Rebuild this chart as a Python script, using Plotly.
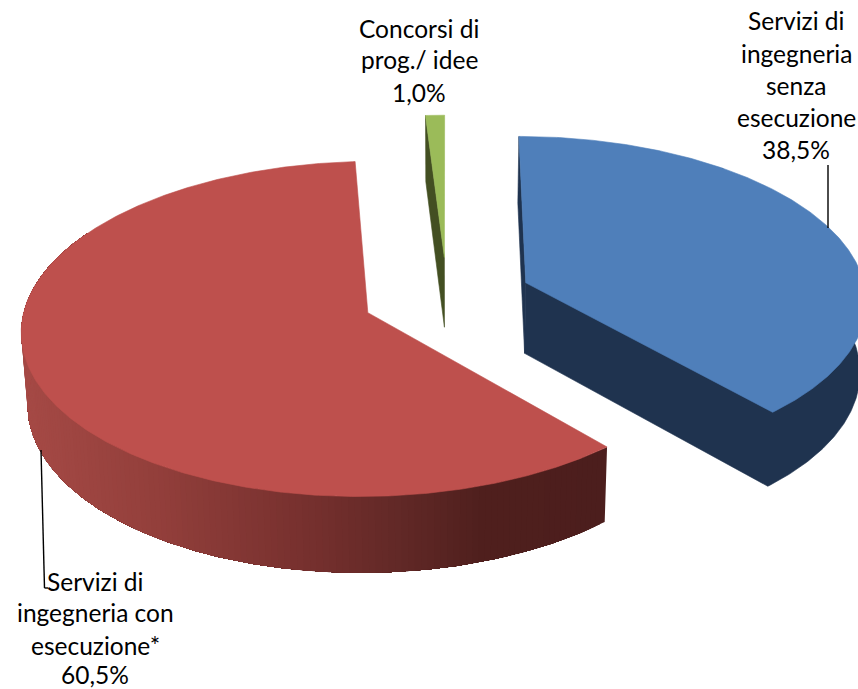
import numpy as np
import plotly.graph_objects as go

# Shares of the three award categories
categories = ["Servizi di ingegneria senza esecuzione", "Servizi di ingegneria con esecuzione*", "Concorsi di prog./ idee"]
values = [38.5, 60.5, 1.0]
value_labels = ["38,5%", "60,5%", "1,0%"]

TOP = {"blue": "#4F7FBA", "red": "#BE504D", "green": "#9BBB59"}
SIDE = {"blue": "#1F334F", "green": "#434F22"}
# Shading of the red wall, by horizontal pixel position
RED_X = [20, 150, 300, 400, 480, 610]
RED_R = [0xA6, 0x94, 0x78, 0x62, 0x50, 0x4C]
RED_G = [0x4A, 0x40, 0x31, 0x29, 0x20, 0x1E]
RED_B = [0x46, 0x3C, 0x2F, 0x27, 0x1E, 0x1D]

W, H = 858, 689
XC, YC = 447.0, 297.0      # pie centre on the page
A, B = 341.0, 163.0        # horizontal and vertical radius
K = 0.096                  # receding perspective
DEPTH, DEPTH_K = 72.0, 0.015
EXPLODE = 0.249


def project(gx, gy, z=0.0):
    """Perspective projection of a point of the tilted pie to page pixels."""
    w = (1 + K * gy) * (1 + DEPTH_K * z)
    return XC + A * gx / w, YC + (-B * gy + DEPTH * z) / w


def rim(slice_, deg, z=0.0):
    th = np.radians(deg)
    return project(slice_["ox"] + np.sin(th), slice_["oy"] + np.cos(th), z)


def apex(slice_, z=0.0):
    return project(slice_["ox"], slice_["oy"], z)


def arc(a0, a1, step=0.5):
    n = max(2, int(abs(a1 - a0) / step) + 1)
    return np.linspace(a0, a1, n)


# Angular extents follow the shares, clockwise from twelve o'clock
total = sum(values)
slices = {}
start = 0.0
for key, v in zip(["blue", "red", "green"], values):
    end = start + 360.0 * v / total
    mid = np.radians((start + end) / 2)
    slices[key] = {"a0": start, "a1": end, "ox": EXPLODE * np.sin(mid), "oy": EXPLODE * np.cos(mid)}
    start = end


def poly(fig, xs, ys, color, edge=0.6):
    fig.add_trace(go.Scatter(
        x=list(xs), y=list(ys), mode="lines", fill="toself", fillcolor=color,
        line=dict(color=color, width=edge), hoverinfo="skip", showlegend=False,
    ))


def radial_face(fig, s, deg, color):
    ax0, ay0 = apex(s)
    rx0, ry0 = rim(s, deg)
    rx1, ry1 = rim(s, deg, 1)
    ax1, ay1 = apex(s, 1)
    poly(fig, [ax0, rx0, rx1, ax1, ax0], [ay0, ry0, ry1, ay1, ay0], color)


def wall(s, a0, a1):
    d = arc(a0, a1)
    tx, ty = rim(s, d)
    bx, by = rim(s, d[::-1], 1)
    return np.r_[tx, bx, tx[0]], np.r_[ty, by, ty[0]]


def top_face(fig, s, color):
    d = arc(s["a0"], s["a1"])
    rx, ry = rim(s, d)
    ax, ay = apex(s)
    poly(fig, np.r_[ax, rx, ax], np.r_[ay, ry, ay], color)


fig = go.Figure()

# Small green slice
g = slices["green"]
radial_face(fig, g, g["a0"], SIDE["green"])
top_face(fig, g, TOP["green"])

# Red slice: each shade overpaints the rest of the wall, so no seams show
r = slices["red"]
RED_WALL_END = 300
for a0 in arc(r["a0"], RED_WALL_END, 1.0)[:-1]:
    xs, ys = wall(r, a0, RED_WALL_END)
    px = rim(r, a0 + 0.5)[0]
    col = "rgb(%d,%d,%d)" % (np.interp(px, RED_X, RED_R), np.interp(px, RED_X, RED_G), np.interp(px, RED_X, RED_B))
    poly(fig, xs, ys, col, edge=0)
top_face(fig, r, TOP["red"])

# Blue slice: extruded base drawn as one shape, with the start face behind it
b = slices["blue"]
radial_face(fig, b, b["a0"], SIDE["blue"])
d = arc(b["a1"], 40)
bx, by = rim(b, d, 1)
tx, ty = rim(b, 40)
ax1, ay1 = apex(b, 1)
ax0, ay0 = apex(b)
poly(fig, np.r_[ax1, bx, tx, ax0, ax1], np.r_[ay1, by, ty, ay0, ay1], SIDE["blue"])
top_face(fig, b, TOP["blue"])

# Leader lines
for (x0, y0, x1, y1) in [(828, 165, 828, 228), (41, 450, 44.5, 588), (44.5, 588, 48, 588)]:
    fig.add_shape(type="line", x0=x0, y0=y0, x1=x1, y1=y1, line=dict(color="#000000", width=1.4))

# Data labels, one annotation per line for the tight leading
label_lines = [
    (796, [20, 53, 85, 117, 149], ["Servizi di", "ingegneria", "senza", "esecuzione", value_labels[0]]),
    (95, [581, 612, 645, 674], ["Servizi di", "ingegneria con", "esecuzione*", value_labels[1]]),
    (419, [28, 59, 92], ["Concorsi di", "prog./ idee", value_labels[2]]),
]
for cx, rows, lines in label_lines:
    for y, line in zip(rows, lines):
        fig.add_annotation(x=cx, y=y, text=line, showarrow=False, xanchor="center", yanchor="middle",
                           font=dict(family="Lato, Carlito, sans-serif", size=24.5, color="#000000"))

fig.update_layout(
    width=W, height=H, margin=dict(l=0, r=0, t=0, b=0),
    paper_bgcolor="#FFFFFF", plot_bgcolor="#FFFFFF", showlegend=False,
    xaxis=dict(range=[0, W], visible=False, fixedrange=True),
    yaxis=dict(range=[H, 0], visible=False, fixedrange=True),
)
fig.write_html("out.html", config={"displayModeBar": False})
